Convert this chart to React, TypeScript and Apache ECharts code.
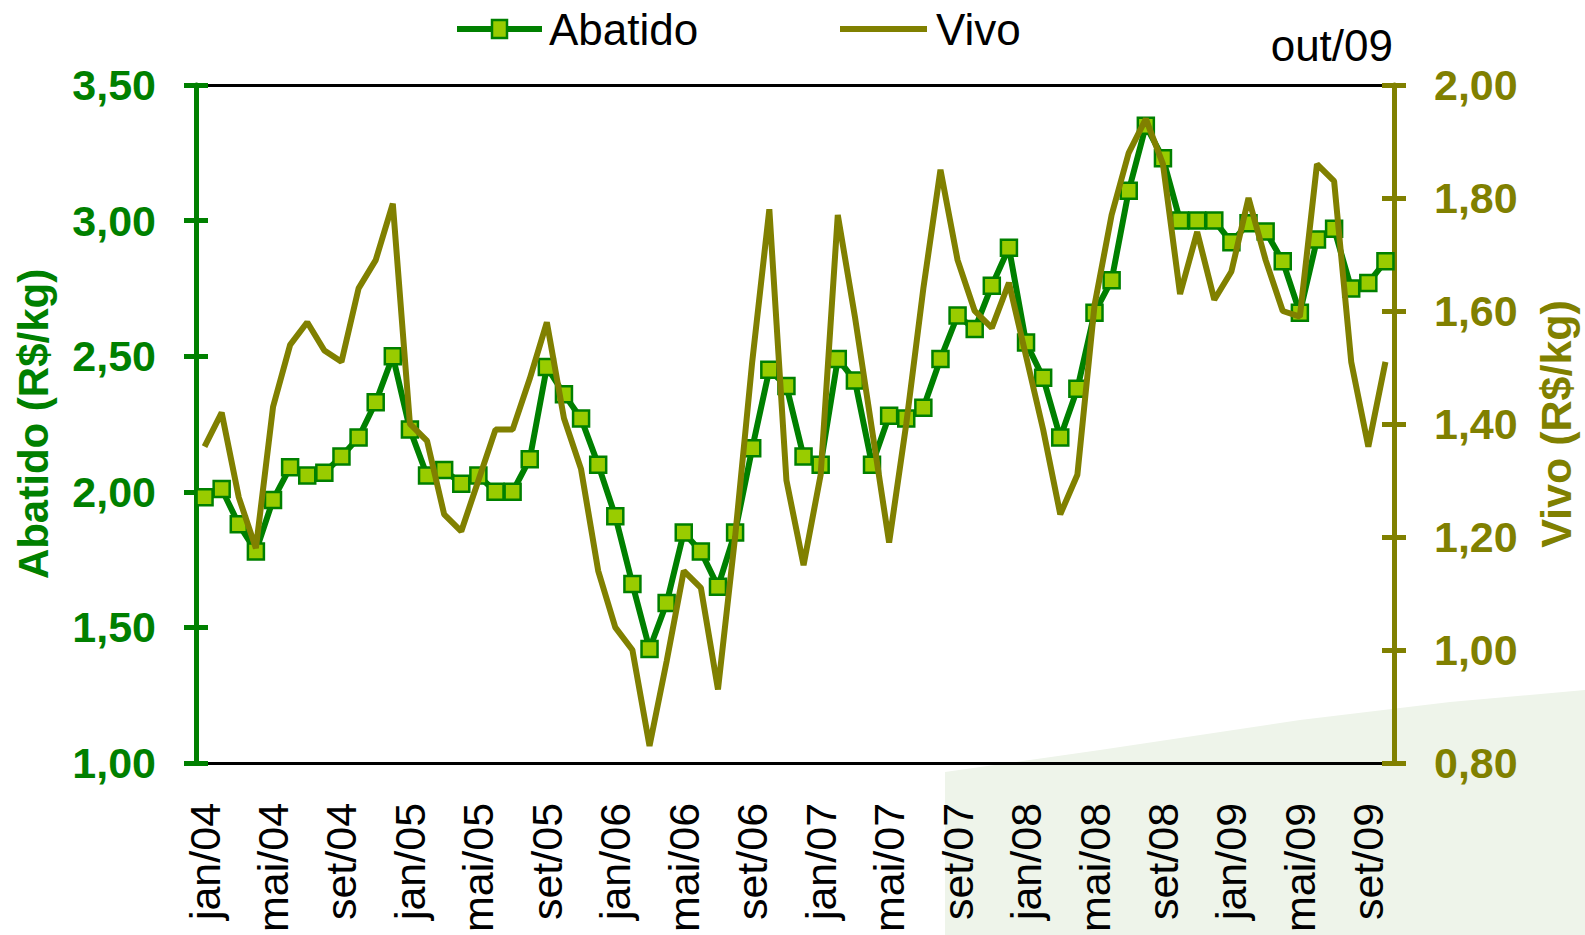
import React, { useEffect, useRef } from "react";
import * as echarts from "echarts";

const MONTHS = ["jan", "fev", "mar", "abr", "mai", "jun", "jul", "ago", "set", "out", "nov", "dez"];
const YEARS = ["04", "05", "06", "07", "08", "09"];
const categories: string[] = [];
YEARS.forEach((y, yi) => {
  MONTHS.forEach((m, mi) => {
    if (yi === YEARS.length - 1 && mi > 9) return;
    categories.push(`${m}/${y}`);
  });
});

const abatido = [
  1.98, 2.01, 1.88, 1.78, 1.97, 2.09, 2.06, 2.07, 2.13, 2.2,
  2.33, 2.5, 2.23, 2.06, 2.08, 2.03, 2.06, 2.0, 2.0, 2.12,
  2.46, 2.36, 2.27, 2.1, 1.91, 1.66, 1.42, 1.59, 1.85, 1.78,
  1.65, 1.85, 2.16, 2.45, 2.39, 2.13, 2.1, 2.49, 2.41, 2.1,
  2.28, 2.27, 2.31, 2.49, 2.65, 2.6, 2.76, 2.9, 2.55, 2.42,
  2.2, 2.38, 2.66, 2.78, 3.11, 3.35, 3.23, 3.0, 3.0, 3.0,
  2.92, 2.99, 2.96, 2.85, 2.66, 2.93, 2.97, 2.75, 2.77, 2.85,
];

const vivo = [
  1.36, 1.42, 1.27, 1.18, 1.43, 1.54, 1.58, 1.53, 1.51, 1.64,
  1.69, 1.79, 1.4, 1.37, 1.24, 1.21, 1.3, 1.39, 1.39, 1.48,
  1.58, 1.41, 1.32, 1.14, 1.04, 1.0, 0.83, 0.98, 1.14, 1.11,
  0.93, 1.2, 1.51, 1.78, 1.3, 1.15, 1.31, 1.77, 1.59, 1.39,
  1.19, 1.4, 1.64, 1.85, 1.69, 1.6, 1.57, 1.65, 1.52, 1.39,
  1.24, 1.31, 1.61, 1.77, 1.88, 1.94, 1.86, 1.63, 1.74, 1.62,
  1.67, 1.8, 1.69, 1.6, 1.59, 1.86, 1.83, 1.51, 1.36, 1.51,
];

const legendNames = ["Abatido", "Vivo"];
const GREEN = "#008000";
const LIME = "#99CC00";
const OLIVE = "#808000";
const FONT = "'Liberation Sans', Arial, sans-serif";
const fmt = (v: number) => v.toFixed(2).replace(".", ",");

export default function App() {
  const ref = useRef<HTMLDivElement>(null);
  useEffect(() => {
    document.body.style.margin = "0";
    document.body.style.overflow = "hidden";
    const chart = echarts.init(ref.current!, null, { renderer: "svg", width: 1585, height: 935 });
    const yBase = (side: "left" | "right", color: string, min: number, max: number, interval: number) => ({
      type: "value",
      position: side,
      min,
      max,
      interval,
      splitLine: { show: false },
      axisLine: { show: true, lineStyle: { color, width: 5 } },
      axisTick: { show: true, length: 12, lineStyle: { color, width: 5 } },
    });
    const legendY = 29;
    const option: any = {
      animation: false,
      backgroundColor: "#ffffff",
      textStyle: { fontFamily: FONT },
      graphic: [
        {
          type: "polygon",
          z: -10,
          silent: true,
          shape: {
            points: [[945, 772], [1100, 750], [1300, 720], [1450, 702], [1585, 690], [1585, 935], [945, 935]],
          },
          style: { fill: "#eef4ea" },
        },
        {
          type: "text",
          right: 192,
          top: 23,
          style: { text: "out/09", fontSize: 44, fill: "#000", fontFamily: FONT },
        },
        // legend: Abatido
        {
          type: "line",
          shape: { x1: 457, y1: legendY, x2: 542, y2: legendY },
          style: { stroke: GREEN, lineWidth: 6 },
        },
        {
          type: "rect",
          shape: { x: 492, y: legendY - 9, width: 15, height: 18 },
          style: { fill: LIME, stroke: GREEN, lineWidth: 2.5 },
        },
        {
          type: "text",
          x: 549,
          y: legendY,
          style: { text: legendNames[0], fontSize: 44, fill: "#000", fontFamily: FONT, verticalAlign: "middle", align: "left" },
        },
        // legend: Vivo
        {
          type: "line",
          shape: { x1: 840, y1: legendY, x2: 927, y2: legendY },
          style: { stroke: OLIVE, lineWidth: 6 },
        },
        {
          type: "text",
          x: 936,
          y: legendY,
          style: { text: legendNames[1], fontSize: 44, fill: "#000", fontFamily: FONT, verticalAlign: "middle", align: "left" },
        },
      ],
      grid: { left: 196, right: 180, top: 85, bottom: 171, containLabel: false },
      xAxis: [
        {
          type: "category",
          data: categories,
          boundaryGap: true,
          position: "bottom",
          axisLine: { lineStyle: { color: "#000", width: 3 } },
          axisTick: { interval: 3, length: 13, lineStyle: { color: "#000", width: 2.5 } },
          axisLabel: { interval: 3, rotate: 90, margin: 40, fontSize: 43, color: "#000", fontFamily: FONT },
          splitLine: { show: false },
        },
        {
          type: "category",
          data: categories,
          boundaryGap: true,
          position: "bottom",
          axisLine: { show: false },
          axisTick: { inside: true, interval: 3, length: 13, lineStyle: { color: "#000", width: 2.5 } },
          axisLabel: { show: false },
          splitLine: { show: false },
        },
        {
          type: "category",
          data: categories,
          position: "top",
          axisLine: { lineStyle: { color: "#000", width: 3 } },
          axisTick: { show: false },
          axisLabel: { show: false },
          splitLine: { show: false },
        },
      ],
      yAxis: [
        {
          ...yBase("left", GREEN, 1, 3.5, 0.5),
          axisLabel: { formatter: fmt, color: GREEN, fontWeight: "bold", fontSize: 43, margin: 40, fontFamily: FONT },
          name: "Abatido (R$/kg)",
          nameLocation: "middle",
          nameRotate: 90,
          nameGap: 142,
          nameTextStyle: { color: GREEN, fontWeight: "bold", fontSize: 42, fontFamily: FONT },
        },
        {
          ...yBase("right", OLIVE, 0.8, 2.0, 0.2),
          axisLabel: { formatter: fmt, color: OLIVE, fontWeight: "bold", fontSize: 43, margin: 40, fontFamily: FONT },
          name: "Vivo (R$/kg)",
          nameLocation: "middle",
          nameRotate: 90,
          nameGap: 140,
          nameTextStyle: { color: OLIVE, fontWeight: "bold", fontSize: 43, fontFamily: FONT },
        },
        {
          ...yBase("left", GREEN, 1, 3.5, 0.5),
          axisLine: { show: false },
          axisTick: { show: true, inside: true, length: 12, lineStyle: { color: GREEN, width: 5 } },
          axisLabel: { show: false },
        },
        {
          ...yBase("right", OLIVE, 0.8, 2.0, 0.2),
          axisLine: { show: false },
          axisTick: { show: true, inside: true, length: 12, lineStyle: { color: OLIVE, width: 5 } },
          axisLabel: { show: false },
        },
      ],
      series: [
        {
          name: legendNames[0],
          type: "line",
          xAxisIndex: 0,
          yAxisIndex: 0,
          data: abatido,
          symbol: "rect",
          symbolSize: 16,
          showSymbol: true,
          showAllSymbol: true,
          lineStyle: { color: GREEN, width: 6 },
          itemStyle: { color: LIME, borderColor: GREEN, borderWidth: 2.5 },
          z: 3,
        },
        {
          name: legendNames[1],
          type: "line",
          xAxisIndex: 0,
          yAxisIndex: 1,
          data: vivo,
          symbol: "none",
          showSymbol: false,
          lineStyle: { color: OLIVE, width: 6 },
          itemStyle: { color: OLIVE },
          z: 4,
        },
      ],
    };
    chart.setOption(option);
    return () => chart.dispose();
  }, []);
  return <div ref={ref} style={{ width: 1585, height: 935 }} />;
}
